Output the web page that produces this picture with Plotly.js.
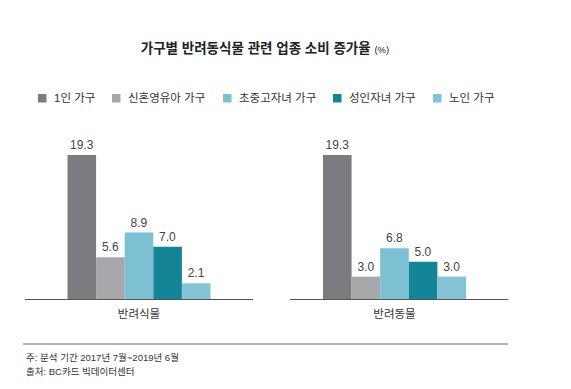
<!DOCTYPE html>
<html>
<head>
<meta charset="utf-8">
<script src="https://cdn.plot.ly/plotly-3.0.1.min.js"></script>
<style>html,body{margin:0;padding:0;background:#fff;}#chart{width:571px;height:389px;}</style>
</head>
<body>
<div id="chart"></div>
<script>
// ---- data ----
const categories = ['반려식물', '반려동물'];
const seriesNames = ['1인 가구', '신혼영유아 가구', '초중고자녀 가구', '성인자녀 가구', '노인 가구'];
const val1in = [19.3, 19.3];
const valNewlywed = [5.6, 3.0];
const valSchool = [8.9, 6.8];
const valAdult = [7.0, 5.0];
const valSenior = [2.1, 3.0];
const seriesValues = [val1in, valNewlywed, valSchool, valAdult, valSenior];
const titleText = '가구별 반려동식물 관련 업종 소비 증가율';
const titleUnit = '(%)';
const notes = ['주: 분석 기간 2017년 7월~2019년 6월', '출처: BC카드 빅데이터센터'];

// ---- styles ----
const colors = ['#7b7c80', '#a8a7ab', '#7ec0d3', '#148597', '#84c3d5'];
const FONT = 'Liberation Sans, Noto Sans CJK KR, sans-serif';
const W = 571, H = 389;
const px = v => v / W;
const py = v => 1 - v / H;

const traces = [];
categories.forEach((cat, ci) => {
  const ax = ci === 0 ? '' : '2';
  seriesNames.forEach((name, si) => {
    const v = seriesValues[si][ci];
    traces.push({
      type: 'bar',
      name: name,
      x: [cat],
      y: [v],
      xaxis: 'x' + ax,
      yaxis: 'y' + ax,
      marker: {color: colors[si], line: {width: 0}},
      text: [v.toFixed(1)],
      textposition: 'outside',
      cliponaxis: false,
      textfont: {family: FONT, size: 12, color: '#444'},
      showlegend: false,
      hoverinfo: 'none'
    });
  });
});

const yTop = 140, yZero = 299, pxPerUnit = 144 / 19.3;
const yMax = (yZero - yTop) / pxPerUnit;

const axisCommon = {
  type: 'category',
  showline: true, linecolor: '#555', linewidth: 1,
  showgrid: false, zeroline: false, ticks: '',
  tickfont: {family: FONT, size: 11.5, color: '#333'},
  ticklabelstandoff: 4,
  fixedrange: true
};
const yCommon = {
  range: [0, yMax], domain: [py(yZero), py(yTop)],
  showline: false, showgrid: false, zeroline: false,
  showticklabels: false, ticks: '', fixedrange: true
};

// manual legend
const sqX = [38, 112, 223, 333, 433];
const shapes = [];
const annotations = [];
seriesNames.forEach((name, i) => {
  shapes.push({type: 'rect', xref: 'paper', yref: 'paper',
    x0: px(sqX[i]), x1: px(sqX[i] + 8.5), y0: py(102.5), y1: py(94),
    fillcolor: colors[i], line: {width: 0}});
  annotations.push({xref: 'paper', yref: 'paper', x: px(sqX[i] + 13.5), y: py(98),
    xanchor: 'left', yanchor: 'middle', text: name, showarrow: false,
    font: {family: FONT, size: 11.5, color: '#333'}});
});
// bottom rule
shapes.push({type: 'line', xref: 'paper', yref: 'paper',
  x0: px(23), x1: px(508), y0: py(344), y1: py(344),
  line: {color: '#666', width: 1}});
notes.forEach((t, i) => {
  annotations.push({xref: 'paper', yref: 'paper', x: px(24), y: py(357 + i * 14.5),
    xanchor: 'left', yanchor: 'middle', text: t, showarrow: false,
    font: {family: FONT, size: 9.5, color: '#333'}});
});

const layout = {
  width: W, height: H,
  margin: {l: 0, r: 0, t: 0, b: 0},
  paper_bgcolor: '#fff', plot_bgcolor: 'rgba(0,0,0,0)',
  showlegend: false,
  barmode: 'group', bargap: 0.3728, bargroupgap: 0,
  title: {
    text: '<b>' + titleText + '</b> <span style="font-size:9.5px">' + titleUnit + '</span>',
    x: px(265), xanchor: 'center', xref: 'paper',
    y: py(48), yanchor: 'middle', yref: 'paper',
    font: {family: FONT, size: 13.5, color: '#222'}
  },
  xaxis: Object.assign({}, axisCommon, {domain: [px(25), px(253)], range: [-0.5, 0.5], anchor: 'y'}),
  xaxis2: Object.assign({}, axisCommon, {domain: [px(290), px(508)], range: [-0.4583, 0.4978], anchor: 'y2'}),
  yaxis: Object.assign({}, yCommon, {anchor: 'x'}),
  yaxis2: Object.assign({}, yCommon, {anchor: 'x2'}),
  shapes: shapes,
  annotations: annotations
};

Plotly.newPlot('chart', traces, layout, {displayModeBar: false, staticPlot: true});
</script>
</body>
</html>
